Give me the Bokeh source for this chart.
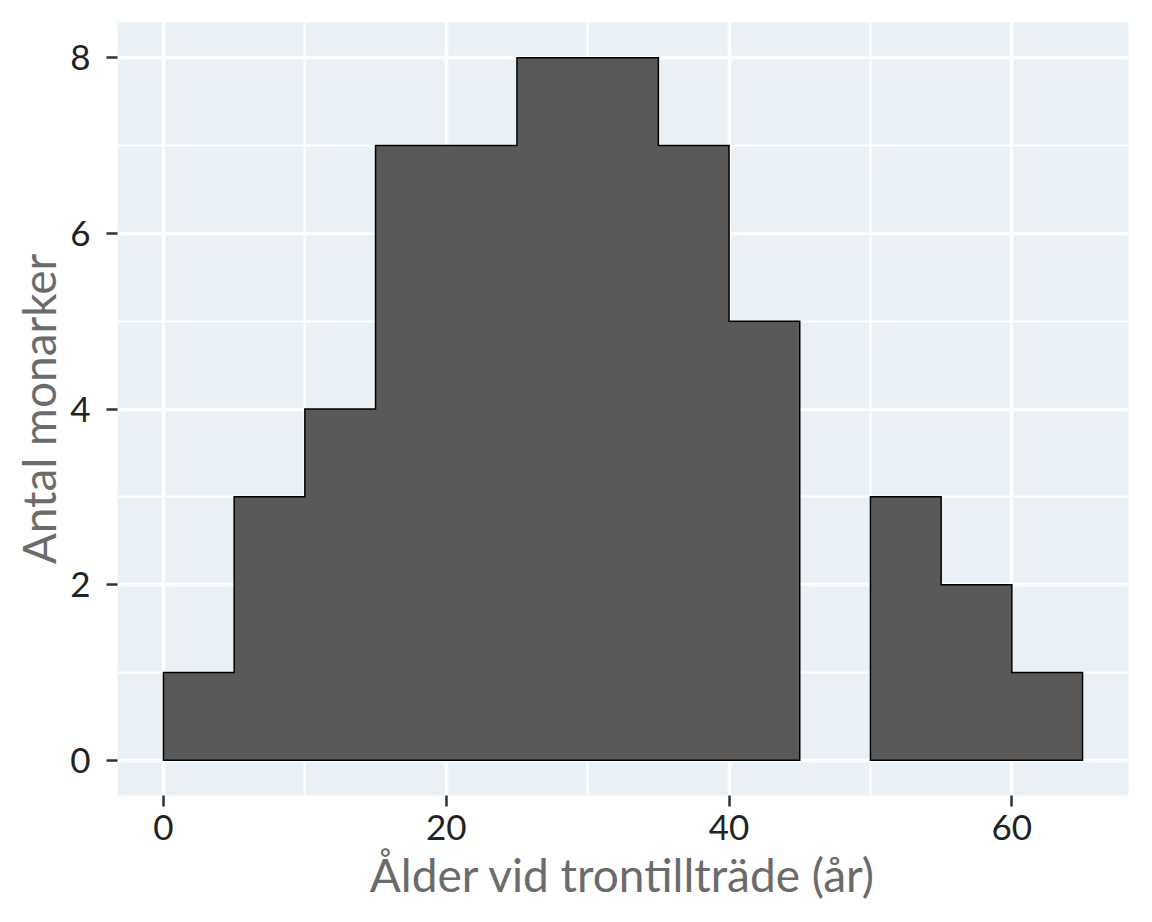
from bokeh.plotting import figure
from bokeh.models import FixedTicker, Range1d
from bokeh.embed import file_html
from bokeh.resources import INLINE

# Data: histogram of age at accession (bin width 5 years)
bin_left = [0, 5, 10, 15, 20, 25, 30, 35, 40, 45, 50, 55, 60]
bin_right = [5, 10, 15, 20, 25, 30, 35, 40, 45, 50, 55, 60, 65]
counts = [1, 3, 4, 7, 7, 8, 8, 7, 5, 0, 3, 2, 1]

x_ticks = [0, 20, 40, 60]
x_minor = [10, 30, 50]
y_ticks = [0, 2, 4, 6, 8]
y_minor = [1, 3, 5, 7]

x_title = "Ålder vid trontillträde (år)"
y_title = "Antal monarker"

FONT = "Lato"
PANEL_BG = "#E9F1F6"
BAR_FILL = "#595959"

p = figure(width=1136, height=908, output_backend="svg", toolbar_location=None,
           x_range=Range1d(-3.25, 68.25), y_range=Range1d(-0.4, 8.4),
           min_border_left=117, min_border_right=8, min_border_top=22,
           min_border_bottom=113)
p.outline_line_color = None
p.background_fill_color = PANEL_BG
p.border_fill_color = "white"

# grid
p.xgrid.ticker = FixedTicker(ticks=x_ticks, minor_ticks=x_minor)
p.ygrid.ticker = FixedTicker(ticks=y_ticks, minor_ticks=y_minor)
for g in (p.xgrid, p.ygrid):
    g.grid_line_color = "white"
    g.grid_line_width = 3.5
    g.minor_grid_line_color = "white"
    g.minor_grid_line_width = 2

# histogram: contiguous non-empty runs of bins as filled step outlines
xs_all, ys_all = [], []
cur_x, cur_y = [], []
for l, r, c in zip(bin_left, bin_right, counts):
    if c > 0:
        if not cur_x:
            cur_x, cur_y = [l], [0]
        cur_x += [l, r]
        cur_y += [c, c]
    else:
        if cur_x:
            cur_x.append(cur_x[-1]); cur_y.append(0)
            xs_all.append(cur_x); ys_all.append(cur_y)
            cur_x, cur_y = [], []
if cur_x:
    cur_x.append(cur_x[-1]); cur_y.append(0)
    xs_all.append(cur_x); ys_all.append(cur_y)
p.patches(xs=xs_all, ys=ys_all, fill_color=BAR_FILL, line_color="black",
          line_width=1.5, line_join="miter")

# axes
p.xaxis.ticker = FixedTicker(ticks=x_ticks)
p.yaxis.ticker = FixedTicker(ticks=y_ticks)
p.xaxis.axis_label = x_title
p.yaxis.axis_label = y_title
for ax in (p.xaxis, p.yaxis):
    ax.axis_line_color = None
    ax.major_tick_line_color = "#333333"
    ax.major_tick_line_width = 2.5
    ax.major_tick_out = 11
    ax.major_tick_in = 0
    ax.minor_tick_line_color = None
    ax.major_label_text_font = FONT
    ax.major_label_text_font_size = "35px"
    ax.major_label_text_color = "#222222"
    ax.axis_label_text_font = FONT
    ax.axis_label_text_font_size = "46px"
    ax.axis_label_text_font_style = "normal"
    ax.axis_label_text_color = "#6B6B6B"
p.xaxis.major_label_standoff = 8
p.yaxis.major_label_standoff = 16
p.xaxis.axis_label_standoff = 4
p.yaxis.axis_label_standoff = 1

open("out.html", "w").write(file_html(p, INLINE))
